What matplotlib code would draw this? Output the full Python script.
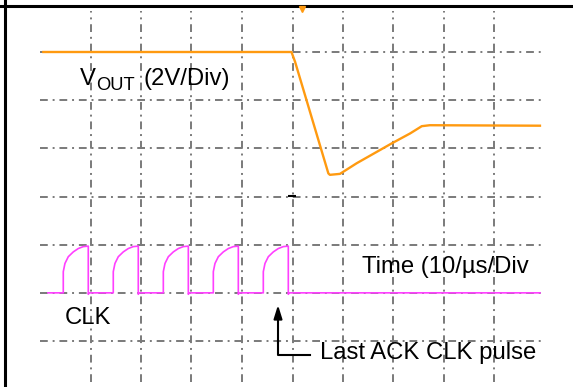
import numpy as np
import matplotlib.pyplot as plt

plt.rcParams['font.family'] = ['Liberation Sans', 'DejaVu Sans']

# Pantalla del osciloscopio: 10 x 8 divisiones
n_div_x = 10
n_div_y = 8

# Traza VOUT (divisiones)
vout_t = [0.066, 4.98, 5.05, 5.71, 5.74, 5.94, 6.27, 6.96, 7.33, 7.56, 7.72, 9.90]
vout_v = [7.00, 7.00, 6.80, 4.48, 4.45, 4.47, 4.69, 5.10, 5.31, 5.46, 5.48, 5.47]

# CLK: inicio de cada pulso y forma de un pulso (desplazamiento, nivel)
clk_rise = [0.461, 1.451, 2.442, 3.432, 4.422]
pulse_dt = [0.0, 0.0, 0.033, 0.099, 0.198, 0.297, 0.396, 0.495, 0.495, 0.51]
pulse_lv = [2.0, 2.44, 2.61, 2.75, 2.85, 2.92, 2.96, 2.97, 1.97, 2.0]
clk_start = 0.158
clk_end = 9.90

clk_t = [clk_start]
clk_v = [2.0]
for r in clk_rise:
    clk_t += [r + d for d in pulse_dt]
    clk_v += pulse_lv
clk_t.append(clk_end)
clk_v.append(2.0)

fig = plt.figure(figsize=(5.73, 3.87), dpi=100)
ax = fig.add_axes([0, 0, 1, 1])
ax.set_xlim(-40 / 50.5, 533 / 50.5)
ax.set_ylim(7 - 335 / 48.17, 7 + 52 / 48.17)
ax.axis('off')

# Cuadricula
grid_kw = dict(color='#7a7a7a', lw=1.4, dashes=(4, 2.5, 1, 2.5), zorder=1)
for i in range(1, n_div_x):
    ax.plot([i, i], [0.15, 7.85], **grid_kw)
for j in range(1, n_div_y):
    ax.plot([0, n_div_x], [j, j], **grid_kw)

# Marco
ax.axvline(-0.693, color='black', lw=2.2)
ax.axhline(7.955, color='black', lw=2.2)

# Trazas
ax.plot(vout_t, vout_v, color='#FF9A10', lw=1.7, zorder=3)
ax.plot(clk_t, clk_v, color='#FF40FF', lw=1.2, zorder=3)

# Marcador de disparo y marca central
ax.plot(5.19, 7.90, marker='v', color='#FF9A10', ms=5, zorder=4)
ax.plot(4.99, 4.01, marker='_', color='black', ms=6, mew=1.5, zorder=4)

# Textos
fs = 17.2
ax.text(0.792, 6.315, 'V', fontsize=fs, va='baseline')
ax.text(1.109, 6.211, 'OUT', fontsize=13.2, va='baseline')
ax.text(2.04, 6.315, '(2V/Div)', fontsize=fs, va='baseline')
ax.text(0.495, 1.353, 'CLK', fontsize=fs, va='baseline')
ax.text(6.376, 2.412, 'Time (10/µs/Div', fontsize=fs, va='baseline')
ax.text(5.545, 0.627, 'Last ACK CLK pulse', fontsize=fs, va='baseline')

# Flecha
ax.plot([5.347, 4.713, 4.713], [0.71, 0.71, 1.0], color='black', lw=1.5)
ax.annotate('', xy=(4.713, 1.748), xytext=(4.713, 0.95),
            arrowprops=dict(arrowstyle='-|>,head_length=0.8,head_width=0.25',
                            color='black', lw=1.5, shrinkA=0, shrinkB=0))

fig.savefig('out.png', dpi=100)
